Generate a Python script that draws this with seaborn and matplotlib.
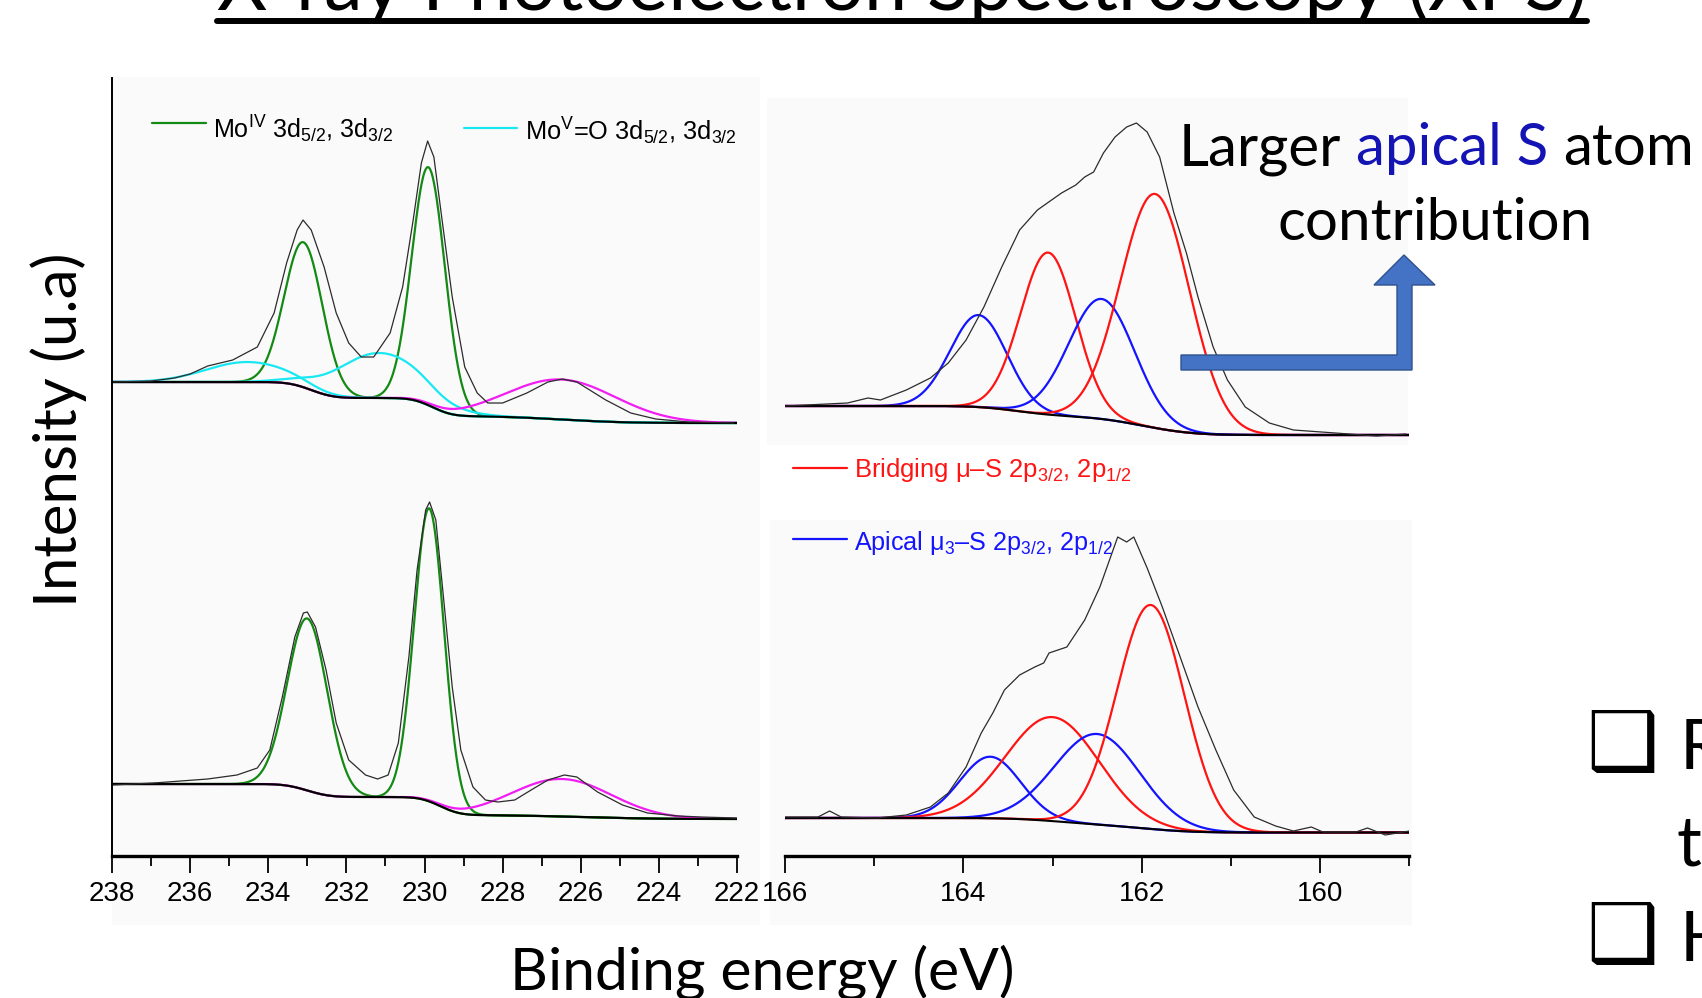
import math
import numpy as np
import matplotlib
matplotlib.use("Agg")
import matplotlib.pyplot as plt
import seaborn as sns
from matplotlib import font_manager
from matplotlib.lines import Line2D
from matplotlib.patches import Polygon, Rectangle
from matplotlib.ticker import MultipleLocator

# -----------------------------
# DATA
# -----------------------------
# Mo 3d region, upper spectrum
mo_a_energy = [238.0, 237.0, 236.4, 236.0, 235.55, 234.91, 234.28, 233.85, 233.53, 233.26,
               233.11, 232.9, 232.57, 232.26, 231.94, 231.62, 231.30, 230.88, 230.56, 230.29,
               230.08, 229.92, 229.76, 229.55, 229.29, 228.97, 228.65, 228.38, 228.0, 227.38,
               226.84, 226.47, 226.1, 225.36, 224.72, 224.08, 223.24, 222.08]
mo_a_counts = [474, 475, 478, 482, 490, 496, 509, 543, 593, 626,
               636, 626, 589, 543, 513, 499, 499, 523, 569, 636,
               693, 715, 699, 636, 559, 489, 463, 453, 453, 463,
               474, 477, 474, 456, 443, 437, 434, 433]
mo_a_peak_center = [233.10, 229.90, 234.54, 231.16, 226.48]
mo_a_peak_height = [145, 238, 20, 45, 40]
mo_a_peak_fwhm = [1.15, 1.00, 2.5, 2.6, 3.3]
mo_a_peak_kind = ["MoIV", "MoIV", "MoV", "MoV", "S2s"]
mo_a_bg_end = 433
mo_a_step_pos = [232.9, 229.8, 226.5]
mo_a_step_height = [16, 18, 7]
mo_a_step_width = [0.45, 0.40, 1.3]

# Mo 3d region, lower spectrum
mo_b_energy = [238.0, 236.93, 235.55, 234.8, 234.28, 233.96, 233.64, 233.32, 233.1, 233.0,
               232.79, 232.52, 232.26, 231.94, 231.51, 231.2, 230.93, 230.67, 230.4, 230.19,
               229.97, 229.87, 229.71, 229.5, 229.29, 229.07, 228.76, 228.44, 228.12, 227.69,
               227.27, 226.84, 226.42, 226.1, 225.57, 224.93, 224.29, 223.5, 222.91, 222.01]
mo_b_counts = [71, 73, 77, 81, 88, 106, 159, 219, 243, 244,
               229, 186, 133, 96, 81, 77, 81, 113, 199, 286,
               346, 354, 336, 253, 169, 106, 69, 56, 54, 56,
               66, 76, 81, 79, 64, 51, 43, 40, 39, 38]
mo_b_peak_center = [233.00, 229.88, 226.48]
mo_b_peak_height = [172, 293, 37.5]
mo_b_peak_fwhm = [1.2, 0.9, 3.0]
mo_b_peak_kind = ["MoIV", "MoIV", "S2s"]
mo_b_bg_end = 37
mo_b_step_pos = [233.0, 229.6, 226.0]
mo_b_step_height = [13, 18, 4]
mo_b_step_width = [0.45, 0.40, 1.5]

# S 2p region, upper spectrum
s_a_energy = [166.0, 165.3, 165.07, 164.93, 164.64, 164.37, 164.17, 163.97, 163.77, 163.57,
              163.37, 163.17, 162.90, 162.74, 162.64, 162.54, 162.43, 162.30, 162.17, 162.06,
              161.94, 161.80, 161.64, 161.50, 161.37, 161.20, 161.04, 160.84, 160.57, 160.30,
              159.83, 159.37, 159.04]
s_a_counts = [450, 453, 458, 456, 466, 478, 493, 516, 549, 589,
              626, 646, 663, 671, 679, 684, 703, 719, 729, 733,
              724, 699, 643, 603, 559, 509, 476, 449, 433, 426,
              423, 420, 422]
s_a_peak_center = [163.83, 163.05, 162.45, 161.85]
s_a_peak_height = [92, 162, 120, 234]
s_a_peak_fwhm = [0.75, 0.73, 0.87, 0.91]
s_a_peak_kind = ["apical", "bridging", "apical", "bridging"]
s_a_bg_end = 421
s_a_step_pos = [163.4, 162.0]
s_a_step_height = [10, 19]
s_a_step_width = [0.35, 0.45]

# S 2p region, lower spectrum
s_b_energy = [166.0, 165.63, 165.5, 165.37, 164.97, 164.64, 164.37, 164.17, 163.97, 163.80,
              163.67, 163.54, 163.37, 163.20, 163.10, 163.04, 162.84, 162.64, 162.47, 162.27,
              162.17, 162.09, 161.94, 161.77, 161.57, 161.37, 161.17, 160.97, 160.74, 160.50,
              160.30, 160.10, 159.97, 159.6, 159.47, 159.27, 159.0]
s_b_counts = [39, 39, 45, 39, 38, 41, 49, 63, 89, 123,
              143, 166, 181, 189, 193, 203, 209, 236, 269, 319,
              314, 319, 288, 249, 199, 149, 106, 66, 39, 30,
              25, 29, 24, 24, 28, 21, 25]
s_b_peak_center = [163.70, 163.00, 162.50, 161.90]
s_b_peak_height = [61.5, 104, 90.5, 224]
s_b_peak_fwhm = [0.80, 1.23, 1.13, 0.89]
s_b_peak_kind = ["apical", "bridging", "apical", "bridging"]
s_b_bg_end = 23.5
s_b_step_pos = [163.0, 162.0]
s_b_step_height = [6, 8.5]
s_b_step_width = [0.4, 0.45]

# -----------------------------
# STYLE
# -----------------------------
COLORS = {"MoIV": "#138a13", "MoV": "#19e8f2", "S2s": "#f21df2",
          "bridging": "#ff1414", "apical": "#1414ff"}

W, H = 1702, 998


def has_font(name):
    try:
        font_manager.findfont(name, fallback_to_default=False)
        return True
    except ValueError:
        return False


NARROW = "Liberation Sans Narrow" if has_font("Liberation Sans Narrow") else "Liberation Sans"
SLIDE = "Lato" if has_font("Lato") else "DejaVu Sans"
# the original legend font is a condensed face; a normal-width face is let run a bit wider
LEGEND_STRETCH = 1.0 if NARROW == "Liberation Sans Narrow" else 1.12

sns.set_theme(style="ticks")
plt.rcParams["font.family"] = [SLIDE, "DejaVu Sans"]
plt.rcParams["mathtext.fontset"] = "custom"
plt.rcParams["mathtext.rm"] = NARROW
plt.rcParams["mathtext.it"] = NARROW + ":italic"
plt.rcParams["mathtext.bf"] = NARROW + ":bold"
plt.rcParams["mathtext.sf"] = NARROW

erf = np.vectorize(math.erf)


def fx(x):
    return x / W


def fy(y):
    return 1 - y / H


def gauss(e, c, h, w):
    return h * np.exp(-4 * np.log(2) * (e - c) ** 2 / w ** 2)


def background(e, end, pos, hgt, wid):
    b = np.full_like(e, float(end))
    for p, h, w in zip(pos, hgt, wid):
        b = b + h * 0.5 * (1 + erf((e - p) / (w * np.sqrt(2))))
    return b


def draw_spectrum(ax, lims, energy, counts, centers, heights, fwhms, kinds,
                  bg_end, step_pos, step_h, step_w):
    e = np.linspace(lims[0], lims[1], 1400)
    bg = background(e, bg_end, step_pos, step_h, step_w)
    for c, h, w, k in zip(centers, heights, fwhms, kinds):
        sns.lineplot(x=e, y=bg + gauss(e, c, h, w), ax=ax, color=COLORS[k],
                     lw=1.6, sort=False, estimator=None)
    sns.lineplot(x=e, y=bg, ax=ax, color="black", lw=1.5, sort=False, estimator=None)
    sns.lineplot(x=energy, y=counts, ax=ax, color="#2b2b2b", lw=0.9,
                 sort=False, estimator=None)


fig = plt.figure(figsize=(W / 100, H / 100), dpi=100, facecolor="white")
renderer = fig.canvas.get_renderer()

# faint grey backdrops of the pasted chart pictures
for x0, y0, x1, y1 in [(112, 77, 760, 925), (767, 98, 1408, 445), (770, 520, 1412, 925)]:
    fig.add_artist(Rectangle((fx(x0), fy(y1)), (x1 - x0) / W, (y1 - y0) / H,
                             transform=fig.transFigure, color="#fafafa", zorder=0, lw=0))

# -----------------------------
# AXES
# -----------------------------
ax_mo = fig.add_axes([fx(112), fy(856), (737 - 112) / W, (856 - 78) / H])
ax_s = fig.add_axes([fx(785), fy(856), (1409.4 - 785) / W, (856 - 78) / H])

draw_spectrum(ax_mo, (238, 222), mo_a_energy, mo_a_counts, mo_a_peak_center, mo_a_peak_height,
              mo_a_peak_fwhm, mo_a_peak_kind, mo_a_bg_end, mo_a_step_pos, mo_a_step_height,
              mo_a_step_width)
draw_spectrum(ax_mo, (238, 222), mo_b_energy, mo_b_counts, mo_b_peak_center, mo_b_peak_height,
              mo_b_peak_fwhm, mo_b_peak_kind, mo_b_bg_end, mo_b_step_pos, mo_b_step_height,
              mo_b_step_width)
draw_spectrum(ax_s, (166, 159), s_a_energy, s_a_counts, s_a_peak_center, s_a_peak_height,
              s_a_peak_fwhm, s_a_peak_kind, s_a_bg_end, s_a_step_pos, s_a_step_height,
              s_a_step_width)
draw_spectrum(ax_s, (166, 159), s_b_energy, s_b_counts, s_b_peak_center, s_b_peak_height,
              s_b_peak_fwhm, s_b_peak_kind, s_b_bg_end, s_b_step_pos, s_b_step_height,
              s_b_step_width)

ax_mo.set_xlim(238, 222)
ax_s.set_xlim(166, 159)
for ax in (ax_mo, ax_s):
    ax.set_ylim(0, 778)
    ax.set_facecolor("none")
    ax.set_xlabel("")
    ax.set_ylabel("")
    ax.xaxis.set_major_locator(MultipleLocator(2))
    ax.xaxis.set_minor_locator(MultipleLocator(1))
    ax.tick_params(axis="x", which="major", direction="out", length=12, width=1.3,
                   pad=6, labelsize=20, labelfontfamily=NARROW, color="black",
                   labelcolor="black", bottom=True)
    ax.tick_params(axis="x", which="minor", direction="out", length=7, width=1.3,
                   color="black", bottom=True)
    ax.tick_params(axis="y", left=False, labelleft=False)
    for side in ("top", "right"):
        ax.spines[side].set_visible(False)
    ax.spines["bottom"].set_linewidth(2.4)
    ax.spines["bottom"].set_color("black")
ax_mo.spines["left"].set_linewidth(1.4)
ax_mo.spines["left"].set_color("black")
ax_s.spines["left"].set_visible(False)


def fit_width(t, target, vertical=False):
    bb = t.get_window_extent(renderer)
    size = bb.height if vertical else bb.width
    t.set_fontsize(t.get_fontsize() * target / size)


# -----------------------------
# LEGEND ENTRIES
# -----------------------------
legend_items = [
    (152, 206, 123, 213, 374, 138, "Mo$^{\\mathrm{IV}}$ 3d$_{5/2}$, 3d$_{3/2}$", "MoIV", "black"),
    (464, 517, 128, 525, 714, 140, "Mo$^{\\mathrm{V}}$=O 3d$_{5/2}$, 3d$_{3/2}$", "MoV", "black"),
    (793, 847, 468, 854, 1102, 477, "Bridging \u03bc\u2013S 2p$_{3/2}$, 2p$_{1/2}$", "bridging",
     COLORS["bridging"]),
    (793, 847, 539, 854, 1085, 550, "Apical \u03bc$_{3}$\u2013S 2p$_{3/2}$, 2p$_{1/2}$", "apical",
     COLORS["apical"]),
]
for x0, x1, yl, xt, xe, yt, label, kind, tcol in legend_items:
    fig.add_artist(Line2D([fx(x0), fx(x1)], [fy(yl), fy(yl)], color=COLORS[kind], lw=1.6,
                          transform=fig.transFigure))
    t = fig.text(fx(xt), fy(yt), label, color=tcol, fontsize=20, family=NARROW,
                 ha="left", va="baseline")
    fit_width(t, (xe - xt) * LEGEND_STRETCH)

# -----------------------------
# SLIDE TEXT
# -----------------------------
title = fig.text(fx(217), fy(10), "X-ray Photoelectron Spectroscopy (XPS)", fontsize=50,
                 ha="left", va="baseline", color="black")
fit_width(title, 1370)
fig.add_artist(Line2D([fx(217), fx(1587)], [fy(21), fy(21)], color="black", lw=4.3,
                      transform=fig.transFigure))

ylab = fig.text(fx(59), fy(430), "Intensity (u.a)", fontsize=36, rotation=90,
                ha="center", va="center", color="black")
fit_width(ylab, 355, vertical=True)

xlab = fig.text(fx(762), fy(990), "Binding energy (eV)", fontsize=36,
                ha="center", va="baseline", color="black")
fit_width(xlab, 505)

# "Larger apical S atom / contribution"
probe = fig.text(0, 0, "Larger apical S atom", fontsize=40)
fit_width(probe, 516)
note_size = probe.get_fontsize()
probe.remove()


def text_width(s, size):
    t = fig.text(0, 0, s, fontsize=size)
    w = t.get_window_extent(renderer).width
    t.remove()
    return w


space = text_width("a a", note_size) - text_width("aa", note_size)
pieces = [("Larger", "black"), ("apical S", "#1414b4"), ("atom", "black")]
total = sum(text_width(p, note_size) for p, _ in pieces) + space * (len(pieces) - 1)
x = 1436.5 - total / 2
for p, col in pieces:
    fig.text(fx(x), fy(165), p, fontsize=note_size, color=col, ha="left", va="baseline")
    x += text_width(p, note_size) + space
fig.text(fx(1435.5), fy(240), "contribution", fontsize=note_size, color="black",
         ha="center", va="baseline")

# bent arrow
arrow_px = [(1181, 355), (1397, 355), (1397, 285), (1374, 285), (1404, 255), (1435, 285),
            (1412, 285), (1412, 370), (1181, 370)]
fig.add_artist(Polygon([(fx(a), fy(b)) for a, b in arrow_px], closed=True,
                       transform=fig.transFigure, facecolor="#4472c4", edgecolor="#2f528f",
                       lw=1.0))

# bullets cut off at the right edge
for yb, s in [(769, "R"), (961, "H")]:
    fig.text(fx(1586), fy(yb), "\u2751", fontsize=58, family=["DejaVu Sans"],
             ha="left", va="baseline", color="black")
    fig.text(fx(1680), fy(yb), s, fontsize=50, ha="left", va="baseline", color="black")
fig.text(fx(1677), fy(865), "t", fontsize=50, ha="left", va="baseline", color="black")

fig.savefig("out.png", dpi=100, facecolor="white")
